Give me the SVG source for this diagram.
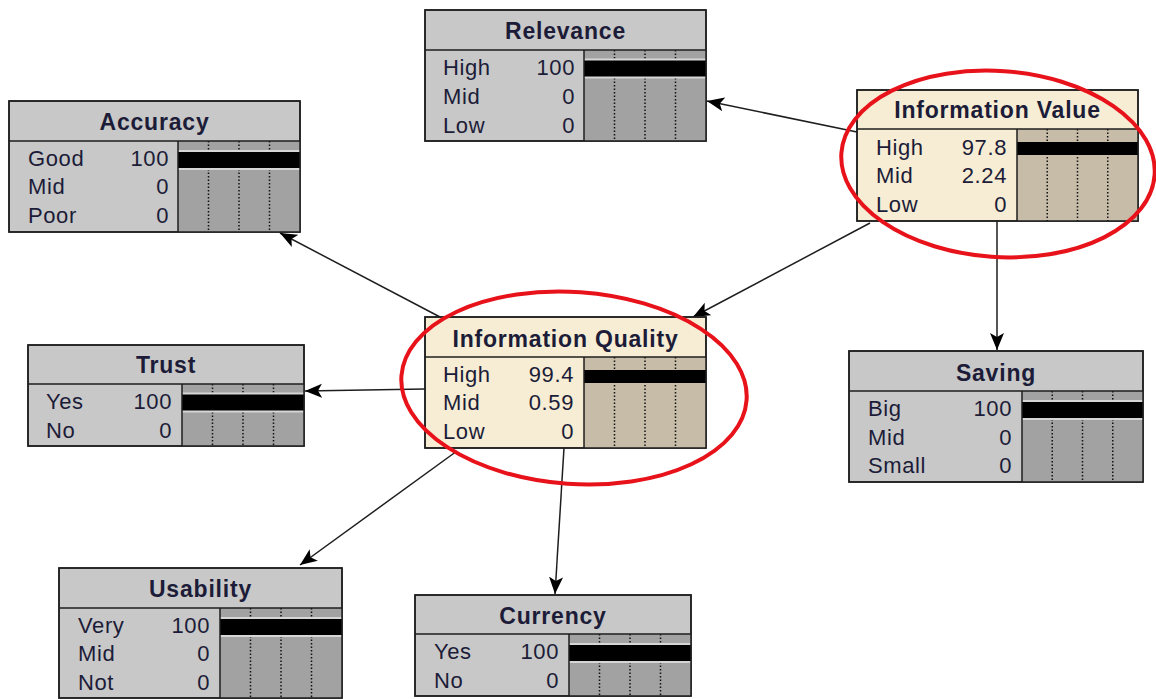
<svg xmlns="http://www.w3.org/2000/svg" width="1156" height="699" viewBox="0 0 1156 699">
<defs>
<style>
.box{stroke:#1e1e1e;stroke-width:1.5}
.g{fill:#c8c8c8}
.gb{fill:#a2a2a2}
.c{fill:#f6edd4}
.cb{fill:#c6bca8}
.sep{stroke:#1e1e1e;stroke-width:1.5}
.dot{stroke:#111;stroke-width:1.5;stroke-dasharray:1.5 2}
.lt{fill:#d6d6d6}
.blk{fill:#000}
.title{font-family:"Liberation Sans",Arial,sans-serif;font-weight:bold;font-size:23px;letter-spacing:0.8px;fill:#1c1c38;text-anchor:middle}
.lab{font-family:"Liberation Sans",Arial,sans-serif;font-size:22px;letter-spacing:0.6px;fill:#1c1c38}
.val{font-family:"Liberation Sans",Arial,sans-serif;font-size:22px;letter-spacing:0.6px;fill:#1c1c38;text-anchor:end}
.edge{stroke:#1e1e1e;stroke-width:1.5;fill:none;marker-end:url(#arr)}
.ring{fill:none;stroke:#e8121a;stroke-width:4}
</style>
<marker id="arr" viewBox="-17 -8 18 16" refX="0" refY="0" markerWidth="18" markerHeight="16" markerUnits="userSpaceOnUse" orient="auto">
<path d="M0,0 L-17,-7 L-13,0 L-17,7 z" fill="#000"/>
</marker>
</defs>
<rect width="1156" height="699" fill="#fff"/>

<g id="connectors">
<line class="edge" x1="857" y1="132" x2="707" y2="101"/>
<line class="edge" x1="870" y1="223" x2="693" y2="317"/>
<line class="edge" x1="997" y1="221" x2="997" y2="350"/>
<line class="edge" x1="440" y1="317" x2="280" y2="233"/>
<line class="edge" x1="425" y1="389" x2="305" y2="391"/>
<line class="edge" x1="457" y1="451" x2="300" y2="565"/>
<line class="edge" x1="564" y1="448" x2="555" y2="594"/>
</g>

<g id="relevance">
<rect class="box g" x="425" y="10" width="281" height="131"/>
<rect class="gb" x="584" y="50" width="122" height="91"/>
<line class="dot" x1="614.5" y1="50" x2="614.5" y2="141"/>
<line class="dot" x1="645" y1="50" x2="645" y2="141"/>
<line class="dot" x1="675.5" y1="50" x2="675.5" y2="141"/>
<rect class="lt" x="584" y="58.5" width="122" height="20"/>
<rect class="blk" x="584" y="60.5" width="122" height="16"/>
<line class="sep" x1="425" y1="50" x2="706" y2="50"/>
<line class="sep" x1="584" y1="50" x2="584" y2="141"/>
<rect class="box" x="425" y="10" width="281" height="131" fill="none"/>
<text class="title" x="565.5" y="39">Relevance</text>
<text class="lab" x="443" y="75">High</text><text class="val" x="575" y="75">100</text>
<text class="lab" x="443" y="104">Mid</text><text class="val" x="575" y="104">0</text>
<text class="lab" x="443" y="133">Low</text><text class="val" x="575" y="133">0</text>
</g>

<g id="accuracy">
<rect class="box g" x="9" y="101" width="291" height="131"/>
<rect class="gb" x="178" y="141" width="122" height="91"/>
<line class="dot" x1="208.5" y1="141" x2="208.5" y2="232"/>
<line class="dot" x1="239" y1="141" x2="239" y2="232"/>
<line class="dot" x1="269.5" y1="141" x2="269.5" y2="232"/>
<rect class="lt" x="178" y="150" width="122" height="20"/>
<rect class="blk" x="178" y="152" width="122" height="16"/>
<line class="sep" x1="9" y1="141" x2="300" y2="141"/>
<line class="sep" x1="178" y1="141" x2="178" y2="232"/>
<rect class="box" x="9" y="101" width="291" height="131" fill="none"/>
<text class="title" x="154.5" y="130">Accuracy</text>
<text class="lab" x="28" y="166">Good</text><text class="val" x="169" y="166">100</text>
<text class="lab" x="28" y="194">Mid</text><text class="val" x="169" y="194">0</text>
<text class="lab" x="28" y="223">Poor</text><text class="val" x="169" y="223">0</text>
</g>

<g id="information-value">
<rect class="box c" x="857" y="90" width="281" height="131"/>
<rect class="cb" x="1017" y="129" width="121" height="92"/>
<line class="dot" x1="1047.25" y1="129" x2="1047.25" y2="221"/>
<line class="dot" x1="1077.5" y1="129" x2="1077.5" y2="221"/>
<line class="dot" x1="1107.75" y1="129" x2="1107.75" y2="221"/>
<rect class="blk" x="1017" y="142" width="118.3" height="13"/>
<rect class="blk" x="1017" y="142" width="121" height="13"/>
<line class="sep" x1="857" y1="129" x2="1138" y2="129"/>
<line class="sep" x1="1017" y1="129" x2="1017" y2="221"/>
<rect class="box" x="857" y="90" width="281" height="131" fill="none"/>
<text class="title" x="997.5" y="118">Information Value</text>
<text class="lab" x="876" y="155">High</text><text class="val" x="1007" y="155">97.8</text>
<text class="lab" x="876" y="183">Mid</text><text class="val" x="1007" y="183">2.24</text>
<text class="lab" x="876" y="212">Low</text><text class="val" x="1007" y="212">0</text>
</g>

<g id="information-quality">
<rect class="box c" x="425" y="317" width="281" height="131"/>
<rect class="cb" x="584" y="357" width="122" height="91"/>
<line class="dot" x1="614.5" y1="357" x2="614.5" y2="448"/>
<line class="dot" x1="645" y1="357" x2="645" y2="448"/>
<line class="dot" x1="675.5" y1="357" x2="675.5" y2="448"/>
<rect class="blk" x="584" y="370" width="122" height="13"/>
<line class="sep" x1="425" y1="357" x2="706" y2="357"/>
<line class="sep" x1="584" y1="357" x2="584" y2="448"/>
<rect class="box" x="425" y="317" width="281" height="131" fill="none"/>
<text class="title" x="565.5" y="347">Information Quality</text>
<text class="lab" x="443" y="382">High</text><text class="val" x="574" y="382">99.4</text>
<text class="lab" x="443" y="410">Mid</text><text class="val" x="574" y="410">0.59</text>
<text class="lab" x="443" y="439">Low</text><text class="val" x="574" y="439">0</text>
</g>

<g id="trust">
<rect class="box g" x="28" y="345" width="276" height="101"/>
<rect class="gb" x="182" y="384" width="122" height="62"/>
<line class="dot" x1="212.5" y1="384" x2="212.5" y2="446"/>
<line class="dot" x1="243" y1="384" x2="243" y2="446"/>
<line class="dot" x1="273.5" y1="384" x2="273.5" y2="446"/>
<rect class="lt" x="182" y="392.5" width="122" height="20"/>
<rect class="blk" x="182" y="394.5" width="122" height="16"/>
<line class="sep" x1="28" y1="384" x2="304" y2="384"/>
<line class="sep" x1="182" y1="384" x2="182" y2="446"/>
<rect class="box" x="28" y="345" width="276" height="101" fill="none"/>
<text class="title" x="166" y="373">Trust</text>
<text class="lab" x="46" y="409">Yes</text><text class="val" x="172" y="409">100</text>
<text class="lab" x="46" y="438">No</text><text class="val" x="172" y="438">0</text>
</g>

<g id="saving">
<rect class="box g" x="849" y="351" width="294" height="131"/>
<rect class="gb" x="1022" y="391" width="121" height="91"/>
<line class="dot" x1="1052.25" y1="391" x2="1052.25" y2="482"/>
<line class="dot" x1="1082.5" y1="391" x2="1082.5" y2="482"/>
<line class="dot" x1="1112.75" y1="391" x2="1112.75" y2="482"/>
<rect class="lt" x="1022" y="400" width="121" height="20"/>
<rect class="blk" x="1022" y="402" width="121" height="16"/>
<line class="sep" x1="849" y1="391" x2="1143" y2="391"/>
<line class="sep" x1="1022" y1="391" x2="1022" y2="482"/>
<rect class="box" x="849" y="351" width="294" height="131" fill="none"/>
<text class="title" x="996" y="381">Saving</text>
<text class="lab" x="868" y="416">Big</text><text class="val" x="1012" y="416">100</text>
<text class="lab" x="868" y="445">Mid</text><text class="val" x="1012" y="445">0</text>
<text class="lab" x="868" y="473">Small</text><text class="val" x="1012" y="473">0</text>
</g>

<g id="usability">
<rect class="box g" x="59" y="568" width="283" height="130"/>
<rect class="gb" x="220" y="608" width="122" height="90"/>
<line class="dot" x1="250.5" y1="608" x2="250.5" y2="698"/>
<line class="dot" x1="281" y1="608" x2="281" y2="698"/>
<line class="dot" x1="311.5" y1="608" x2="311.5" y2="698"/>
<rect class="lt" x="220" y="617" width="122" height="20"/>
<rect class="blk" x="220" y="619" width="122" height="16"/>
<line class="sep" x1="59" y1="608" x2="342" y2="608"/>
<line class="sep" x1="220" y1="608" x2="220" y2="698"/>
<rect class="box" x="59" y="568" width="283" height="130" fill="none"/>
<text class="title" x="200.5" y="597">Usability</text>
<text class="lab" x="78" y="633">Very</text><text class="val" x="210" y="633">100</text>
<text class="lab" x="78" y="661">Mid</text><text class="val" x="210" y="661">0</text>
<text class="lab" x="78" y="690">Not</text><text class="val" x="210" y="690">0</text>
</g>

<g id="currency">
<rect class="box g" x="415" y="595" width="276" height="101"/>
<rect class="gb" x="569" y="634" width="122" height="62"/>
<line class="dot" x1="599.5" y1="634" x2="599.5" y2="696"/>
<line class="dot" x1="630" y1="634" x2="630" y2="696"/>
<line class="dot" x1="660.5" y1="634" x2="660.5" y2="696"/>
<rect class="lt" x="569" y="643" width="122" height="20"/>
<rect class="blk" x="569" y="645" width="122" height="16"/>
<line class="sep" x1="415" y1="634" x2="691" y2="634"/>
<line class="sep" x1="569" y1="634" x2="569" y2="696"/>
<rect class="box" x="415" y="595" width="276" height="101" fill="none"/>
<text class="title" x="553" y="624">Currency</text>
<text class="lab" x="434" y="659">Yes</text><text class="val" x="559" y="659">100</text>
<text class="lab" x="434" y="688">No</text><text class="val" x="559" y="688">0</text>
</g>

<g id="highlights">
<ellipse class="ring" cx="998" cy="164" rx="157" ry="93" transform="rotate(4 998 164)"/>
<ellipse class="ring" cx="574" cy="388" rx="173" ry="96" transform="rotate(4 574 388)"/>
</g>
</svg>
